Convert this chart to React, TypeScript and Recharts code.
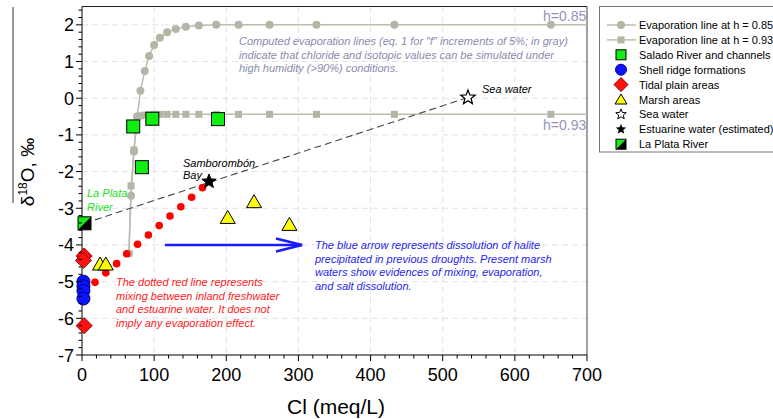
import React from "react";
import {
  ComposedChart, Line, Scatter, XAxis, YAxis, CartesianGrid, ReferenceLine,
} from "recharts";

const FONT = "'Liberation Sans', Arial, sans-serif";

// Evaporation model (Cl in meq/L) and d18O for two humidities (line runs on to the frame at 700)
const evapCl = [65, 68, 72, 76.5, 81, 87, 93, 100, 108, 118, 130, 144, 162, 186, 217, 260, 325, 433, 650, 700];
const evap85 = [-4.23, -2.66, -1.45, -0.5, 0.2, 0.74, 1.15, 1.45, 1.65, 1.8, 1.89, 1.95, 1.98, 2.0, 2.0, 2.0, 2.0, 2.0, 2.0, 2.0];
const evap93 = [-4.23, -2.39, -1.41, -0.52, -0.48, -0.46, -0.45, -0.44, -0.44, -0.44, -0.44, -0.44, -0.44, -0.44, -0.44, -0.44, -0.44, -0.44, -0.44, -0.44];

const saladoCl = [71, 83, 97.5, 188.5];
const saladoO = [-0.77, -1.88, -0.56, -0.57];
const shellCl = [2, 2, 2, 2];
const shellO = [-5.0, -5.12, -5.25, -5.46];
const tidalCl = [3, 2, 3];
const tidalO = [-4.3, -4.42, -6.2];
const marshCl = [25, 33, 202, 238.5, 287.5];
const marshO = [-4.52, -4.52, -3.25, -2.82, -3.44];
const seaCl = [535];
const seaO = [0.02];
const estCl = [176];
const estO = [-2.27];
const plataCl = [3.5];
const plataO = [-3.41];
const mixCl = [18, 33, 48, 62, 77, 92, 107, 122, 137, 152, 167];
const mixO = [-5.02, -4.76, -4.51, -4.24, -3.98, -3.73, -3.47, -3.21, -2.96, -2.7, -2.44];
const dashCl = [3.5, 535];
const dashO = [-3.41, 0.02];
const arrowCl = [115, 305];
const arrowO = [-4.0, -4.0];

const xTicks = [0, 20, 40, 60, 80, 100, 120, 140, 160, 180, 200, 220, 240, 260, 280, 300, 320, 340, 360, 380, 400, 420, 440, 460, 480, 500, 520, 540, 560, 580, 600, 620, 640, 660, 680, 700];
const xMajor = [0, 100, 200, 300, 400, 500, 600, 700];
const yTicks = [-7, -6.8, -6.6, -6.4, -6.2, -6, -5.8, -5.6, -5.4, -5.2, -5, -4.8, -4.6, -4.4, -4.2, -4, -3.8, -3.6, -3.4, -3.2, -3, -2.8, -2.6, -2.4, -2.2, -2, -1.8, -1.6, -1.4, -1.2, -1, -0.8, -0.6, -0.4, -0.2, 0, 0.2, 0.4, 0.6, 0.8, 1, 1.2, 1.4, 1.6, 1.8, 2, 2.2, 2.4];
const yMajor = [-7, -6, -5, -4, -3, -2, -1, 0, 1, 2];
const gridX = [100, 200, 300, 400, 500, 600];
const gridY = [-6, -5, -4, -3, -2, -1, 0, 1, 2];

const zip = (xs: number[], ys: number[]) => xs.map((x, i) => ({ x, y: ys[i] }));

const legendItems = [
  "Evaporation line at h = 0.85",
  "Evaporation line at h = 0.93",
  "Salado River and channels",
  "Shell ridge formations",
  "Tidal plain areas",
  "Marsh areas",
  "Sea water",
  "Estuarine water (estimated)",
  "La Plata River",
];

const GRAY_LINE = "#bdbdb0";
const GRAY_MARK = "#b5b5a6";

const starPath = (cx: number, cy: number, ro: number, ri: number) => {
  const pts: string[] = [];
  for (let i = 0; i < 10; i++) {
    const r = i % 2 === 0 ? ro : ri;
    const a = -Math.PI / 2 + (i * Math.PI) / 5;
    pts.push(`${cx + r * Math.cos(a)},${cy + r * Math.sin(a)}`);
  }
  return pts.join(" ");
};

const GreenSquare = (p: any) => (
  <rect x={p.cx - 6.5} y={p.cy - 6.5} width={13} height={13} fill="#11ee11" stroke="#000" strokeWidth={1} />
);
const BlueCircle = (p: any) => (
  <circle cx={p.cx} cy={p.cy} r={6.5} fill="#0a14ff" stroke="#000088" strokeWidth={1} />
);
const RedDiamond = (p: any) => (
  <polygon points={`${p.cx},${p.cy - 8} ${p.cx + 8},${p.cy} ${p.cx},${p.cy + 8} ${p.cx - 8},${p.cy}`} fill="#ff1010" stroke="#990000" strokeWidth={1} />
);
const YellowTri = (p: any) => (
  <polygon points={`${p.cx},${p.cy - 7} ${p.cx + 7.5},${p.cy + 6} ${p.cx - 7.5},${p.cy + 6}`} fill="#ffff00" stroke="#000" strokeWidth={1} />
);
const WhiteStar = (p: any) => (
  <polygon points={starPath(p.cx, p.cy, 7.5, 3.2)} fill="#fff" stroke="#000" strokeWidth={1.2} />
);
const BlackStar = (p: any) => (
  <polygon points={starPath(p.cx, p.cy, 7.5, 3.2)} fill="#000" stroke="#000" strokeWidth={1} />
);
const PlataSquare = (p: any) => (
  <g>
    <polygon points={`${p.cx - 6.5},${p.cy - 6.5} ${p.cx + 6.5},${p.cy - 6.5} ${p.cx - 6.5},${p.cy + 6.5}`} fill="#11ee11" />
    <polygon points={`${p.cx + 6.5},${p.cy - 6.5} ${p.cx + 6.5},${p.cy + 6.5} ${p.cx - 6.5},${p.cy + 6.5}`} fill="#000" />
    <rect x={p.cx - 6.5} y={p.cy - 6.5} width={13} height={13} fill="none" stroke="#000" strokeWidth={1} />
  </g>
);
const RedDot = (p: any) => <circle cx={p.cx} cy={p.cy} r={3.8} fill="#ff0000" />;

const circleDot = (p: any) =>
  p.payload && p.payload.x >= 700 ? <g key={`c${p.index}`} /> :
    <circle key={`c${p.index}`} cx={p.cx} cy={p.cy} r={4} fill={GRAY_MARK} />;
const squareDot = (p: any) =>
  p.payload && p.payload.x >= 700 ? <g key={`s${p.index}`} /> :
    <rect key={`s${p.index}`} x={p.cx - 3.5} y={p.cy - 3.5} width={7} height={7} fill={GRAY_MARK} />;

const XTick = (p: any) => {
  const v = p.payload.value;
  const major = xMajor.includes(v);
  return (
    <g>
      <line x1={p.x} y1={p.y} x2={p.x} y2={p.y + (major ? 6 : 3.5)} stroke="#000" strokeWidth={1} />
      {major && (
        <text x={p.x} y={p.y + 26} textAnchor="middle" fontSize={18} fontFamily={FONT} fill="#000">{v}</text>
      )}
    </g>
  );
};
const YTick = (p: any) => {
  const v = p.payload.value;
  const major = yMajor.includes(v);
  return (
    <g>
      <line x1={p.x - (major ? 6 : 3.5)} y1={p.y} x2={p.x} y2={p.y} stroke="#000" strokeWidth={1} />
      {major && (
        <text x={p.x - 8} y={p.y + 6.5} textAnchor="end" fontSize={18} fontFamily={FONT} fill="#000">{v}</text>
      )}
    </g>
  );
};

const ArrowShape = (p: any) => {
  const { x1, y1, x2, y2 } = p;
  return (
    <g stroke="#1a1aff" strokeWidth={2.5} fill="none">
      <line x1={x1} y1={y1} x2={x2} y2={y2} />
      <polyline points={`${x2 - 26},${y2 - 6.5} ${x2},${y2} ${x2 - 26},${y2 + 6.5}`} />
    </g>
  );
};

const Legend = () => {
  const rowY = (i: number) => 25 + i * 14.9;
  const sx = 621;
  return (
    <g fontFamily={FONT}>
      <rect x={599.5} y={6.5} width={200} height={145.5} fill="#fff" stroke="#777" strokeWidth={1} />
      {legendItems.map((t, i) => (
        <text key={t} x={639} y={rowY(i) + 4} fontSize={11} fill="#000">{t}</text>
      ))}
      <line x1={607} y1={rowY(0)} x2={636} y2={rowY(0)} stroke={GRAY_LINE} strokeWidth={1.5} />
      <circle cx={sx} cy={rowY(0)} r={4} fill={GRAY_MARK} />
      <line x1={607} y1={rowY(1)} x2={636} y2={rowY(1)} stroke={GRAY_LINE} strokeWidth={1.5} />
      <rect x={sx - 3.5} y={rowY(1) - 3.5} width={7} height={7} fill={GRAY_MARK} />
      <rect x={sx - 5} y={rowY(2) - 5} width={10} height={10} fill="#11ee11" stroke="#000" />
      <circle cx={sx} cy={rowY(3)} r={5.5} fill="#0a14ff" stroke="#000088" />
      <polygon points={`${sx},${rowY(4) - 7} ${sx + 7},${rowY(4)} ${sx},${rowY(4) + 7} ${sx - 7},${rowY(4)}`} fill="#ff1010" stroke="#990000" />
      <polygon points={`${sx},${rowY(5) - 5.5} ${sx + 6},${rowY(5) + 4.5} ${sx - 6},${rowY(5) + 4.5}`} fill="#ffff00" stroke="#000" />
      <polygon points={starPath(sx, rowY(6), 5.5, 2.4)} fill="#fff" stroke="#000" strokeWidth={1} />
      <polygon points={starPath(sx, rowY(7), 5.5, 2.4)} fill="#000" />
      <polygon points={`${sx - 5},${rowY(8) - 5} ${sx + 5},${rowY(8) - 5} ${sx - 5},${rowY(8) + 5}`} fill="#11ee11" />
      <polygon points={`${sx + 5},${rowY(8) - 5} ${sx + 5},${rowY(8) + 5} ${sx - 5},${rowY(8) + 5}`} fill="#000" />
      <rect x={sx - 5} y={rowY(8) - 5} width={10} height={10} fill="none" stroke="#000" />
    </g>
  );
};

const Notes = () => (
  <g fontFamily={FONT} fontStyle="italic" fontSize={11}>
    <text fill="#8a8ab0">
      <tspan x={239} y={45}>Computed evaporation lines (eq. 1 for "f" increments of 5%; in gray)</tspan>
      <tspan x={239} y={58.5}>indicate that chloride and isotopic values can be simulated under</tspan>
      <tspan x={239} y={72}>high humidity (&gt;90%) conditions.</tspan>
    </text>
    <text x={543} y={21} fill="#9494b8" fontStyle="normal" fontSize={14}>h=0.85</text>
    <text x={543} y={130} fill="#9494b8" fontStyle="normal" fontSize={14}>h=0.93</text>
    <text x={482} y={93} fill="#000">Sea water</text>
    <text fill="#000">
      <tspan x={183} y={166.5}>Samborombón</tspan>
      <tspan x={183} y={179}>Bay</tspan>
    </text>
    <text fill="#22e022">
      <tspan x={87} y={197}>La Plata</tspan>
      <tspan x={87} y={210.5}>River</tspan>
    </text>
    <text fill="#ff1a1a">
      <tspan x={116} y={286}>The dotted red line represents</tspan>
      <tspan x={116} y={299.5}>mixing between inland freshwater</tspan>
      <tspan x={116} y={313}>and estuarine water. It does not</tspan>
      <tspan x={116} y={326.5}>imply any evaporation effect.</tspan>
    </text>
    <text fill="#1f1fee">
      <tspan x={315} y={249}>The blue arrow represents dissolution of halite</tspan>
      <tspan x={315} y={262.5}>precipitated in previous droughts. Present marsh</tspan>
      <tspan x={315} y={276}>waters show evidences of mixing, evaporation,</tspan>
      <tspan x={315} y={289.5}>and salt dissolution.</tspan>
    </text>
    <text x={336} y={414} fontStyle="normal" fontSize={21} textAnchor="middle" fill="#000">Cl (meq/L)</text>
    <line x1={13} y1={7} x2={13} y2={203} stroke="#333" strokeWidth={1} />
    <text transform="translate(34,172) rotate(-90)" fontStyle="normal" fontSize={19} textAnchor="middle" fill="#000">
      δ<tspan fontSize={12} dy={-7}>18</tspan><tspan dy={7}>O, ‰</tspan>
    </text>
  </g>
);

export default function App() {
  return (
    <div style={{ position: "absolute", left: 0, top: 0, width: 773, height: 419, background: "#fff" }}>
      <ComposedChart width={773} height={419} margin={{ top: 6.5, right: 186, bottom: 0, left: 0 }}>
        <CartesianGrid stroke="#e2e2e2" strokeDasharray="6 4" verticalValues={gridX} horizontalValues={gridY} />
        <XAxis type="number" dataKey="x" domain={[0, 700]} ticks={xTicks} interval={0}
          height={64} tickSize={0} tickMargin={0} tickLine={false} tick={<XTick />} axisLine={{ stroke: "#000" }} />
        <YAxis type="number" dataKey="y" domain={[-7, 2.5]} ticks={yTicks} interval={0}
          width={82} tickSize={0} tickMargin={0} tickLine={false} tick={<YTick />} axisLine={{ stroke: "#000" }} />
        <ReferenceLine y={2.5} stroke="#222" strokeWidth={1} />
        <ReferenceLine x={700} stroke="#444" strokeWidth={1} />
        <Line data={zip(evapCl, evap85)} dataKey="y" stroke={GRAY_LINE} strokeWidth={1.5} isAnimationActive={false} dot={circleDot} />
        <Line data={zip(evapCl, evap93)} dataKey="y" stroke={GRAY_LINE} strokeWidth={1.5} isAnimationActive={false} dot={squareDot} />
        <Line data={zip(dashCl, dashO)} dataKey="y" stroke="#444" strokeWidth={1.1} strokeDasharray="7 4" dot={false} isAnimationActive={false} />
        <ReferenceLine segment={zip(arrowCl, arrowO)} shape={<ArrowShape />} />
        <Scatter data={zip(mixCl, mixO)} shape={<RedDot />} isAnimationActive={false} />
        <Scatter data={zip(saladoCl, saladoO)} shape={<GreenSquare />} isAnimationActive={false} />
        <Scatter data={zip(shellCl, shellO)} shape={<BlueCircle />} isAnimationActive={false} />
        <Scatter data={zip(tidalCl, tidalO)} shape={<RedDiamond />} isAnimationActive={false} />
        <Scatter data={zip(marshCl, marshO)} shape={<YellowTri />} isAnimationActive={false} />
        <Scatter data={zip(seaCl, seaO)} shape={<WhiteStar />} isAnimationActive={false} />
        <Scatter data={zip(estCl, estO)} shape={<BlackStar />} isAnimationActive={false} />
        <Scatter data={zip(plataCl, plataO)} shape={<PlataSquare />} isAnimationActive={false} />
      </ComposedChart>
      <svg width={773} height={419} style={{ position: "absolute", left: 0, top: 0, pointerEvents: "none" }}>
        <Notes />
        <Legend />
      </svg>
    </div>
  );
}
